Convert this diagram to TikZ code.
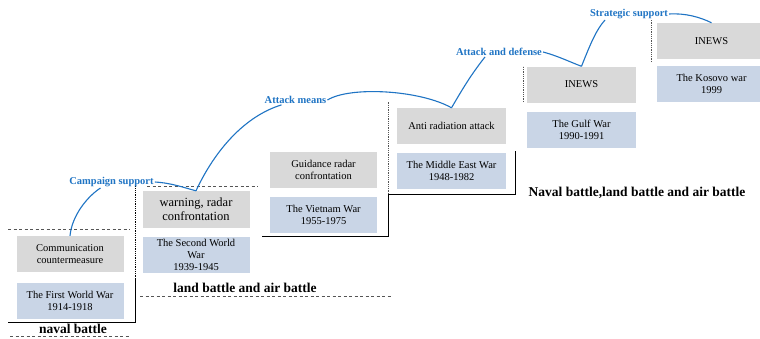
\documentclass[tikz,border=0pt]{standalone}
\usepackage{fontspec}
\setmainfont{Liberation Serif}
\usepackage{xcolor}
\usetikzlibrary{positioning}
\definecolor{boxgray}{HTML}{D9D9D9}
\definecolor{boxblue}{HTML}{C9D5E6}
\definecolor{linkblue}{HTML}{1F74C4}
\definecolor{guide}{HTML}{555555}

\begin{document}
\begin{tikzpicture}[x=1pt,y=-1pt,
    event/.style={fill=boxgray,minimum width=107pt,minimum height=36pt,align=center,inner sep=1pt,font=\fontsize{10.5}{12}\selectfont},
    war/.style={event,fill=boxblue},
    era/.style={font=\fontsize{13.5}{15}\selectfont\bfseries,inner sep=1pt},
    phase/.style={text=linkblue,font=\fontsize{10.5}{12}\selectfont\bfseries,inner sep=1pt},
    link/.style={linkblue,line width=1.1pt}]
    \clip (0,0) rectangle (760,338);
    \fill[white] (0,0) rectangle (760,338);
    \draw[line width=0.9pt] (8,322)--(135,322)--(135,279);
    \draw[line width=0.9pt] (262,236)--(388,236)--(388,194)--(515,194)--(515,151);
    \draw[densely dotted,thick] (135,279)--(135,180);
    \foreach \x/\ya/\yb in {388/194/102,523/102/66,651/62/20}
    {
        \draw[densely dotted,thick,guide] (\x,\ya)--(\x,\yb);
    }
    \foreach \xa/\xb/\y in {8/130/229,10/130/336,147/258/186,140/392/296}
    {
        \draw[dashed,guide,dash pattern=on 3pt off 2.5pt] (\xa,\y)--(\xb,\y);
    }

    \node[event] (counter) at (70,254) {Communication\\countermeasure};
    \node[war,below=11pt of counter] (ww1) {The First World War\\1914-1918};
    \node[event,minimum height=37pt,font=\fontsize{12.5}{14}\selectfont] (radar) at (196,209.5) {warning, radar\\confrontation};
    \node[war,below=9pt of radar] (ww2) {The Second World\\War\\1939-1945};
    \node[event] (guidance) at (323.5,170) {Guidance radar\\confrontation};
    \node[war,below=9pt of guidance] (vietnam) {The Vietnam War\\1955-1975};
    \node[event,minimum width=109pt] (antirad) at (451.5,126) {Anti radiation attack};
    \node[war,minimum width=109pt,below=9pt of antirad] (mideast) {The Middle East War\\1948-1982};
    \node[event,minimum width=109pt] (inews1) at (581.5,84.5) {INEWS};
    \node[war,minimum width=109pt,below=9pt of inews1] (gulf) {The Gulf War\\1990-1991};
    \node[event,minimum width=109pt] (inews2) at (711.5,41) {INEWS};
    \node[war,minimum width=109pt,below=7pt of inews2] (kosovo) {The Kosovo war\\1999};

    \node[era] (naval) at (73,329) {naval battle};
    \node[era] (landair) at (245,288) {land battle and air battle};
    \node[era] (allthree) at (637,193) {Naval battle,land battle and air battle};

    \node[phase] (campaign) at (111.5,182) {Campaign support};
    \node[phase] (means) at (295.5,100) {Attack means};
    \node[phase] (defense) at (499,52) {Attack and defense};
    \node[phase] (strategic) at (629,14) {Strategic support};

    \draw[link] (counter.north) .. controls (72,215) and (88,196) .. ([xshift=-11pt]campaign.south);
    \draw[link] (campaign.east) .. controls (172,183) and (185,188) .. (radar.north);
    \draw[link] (radar.north) .. controls (215,150) and (245,116) .. ([xshift=-14pt]means.south);
    \draw[link] (means.east) .. controls (350,86) and (420,90) .. (antirad.north);
    \draw[link] (antirad.north) .. controls (462,90) and (470,76) .. ([xshift=-14pt]defense.south);
    \draw[link] (defense.east) .. controls (558,56) and (570,62) .. (inews1.north);
    \draw[link] (inews1.north) .. controls (590,45) and (596,30) .. ([xshift=-24pt]strategic.south);
    \draw[link] (strategic.east) .. controls (685,13) and (700,17) .. (inews2.north);
\end{tikzpicture}
\end{document}
